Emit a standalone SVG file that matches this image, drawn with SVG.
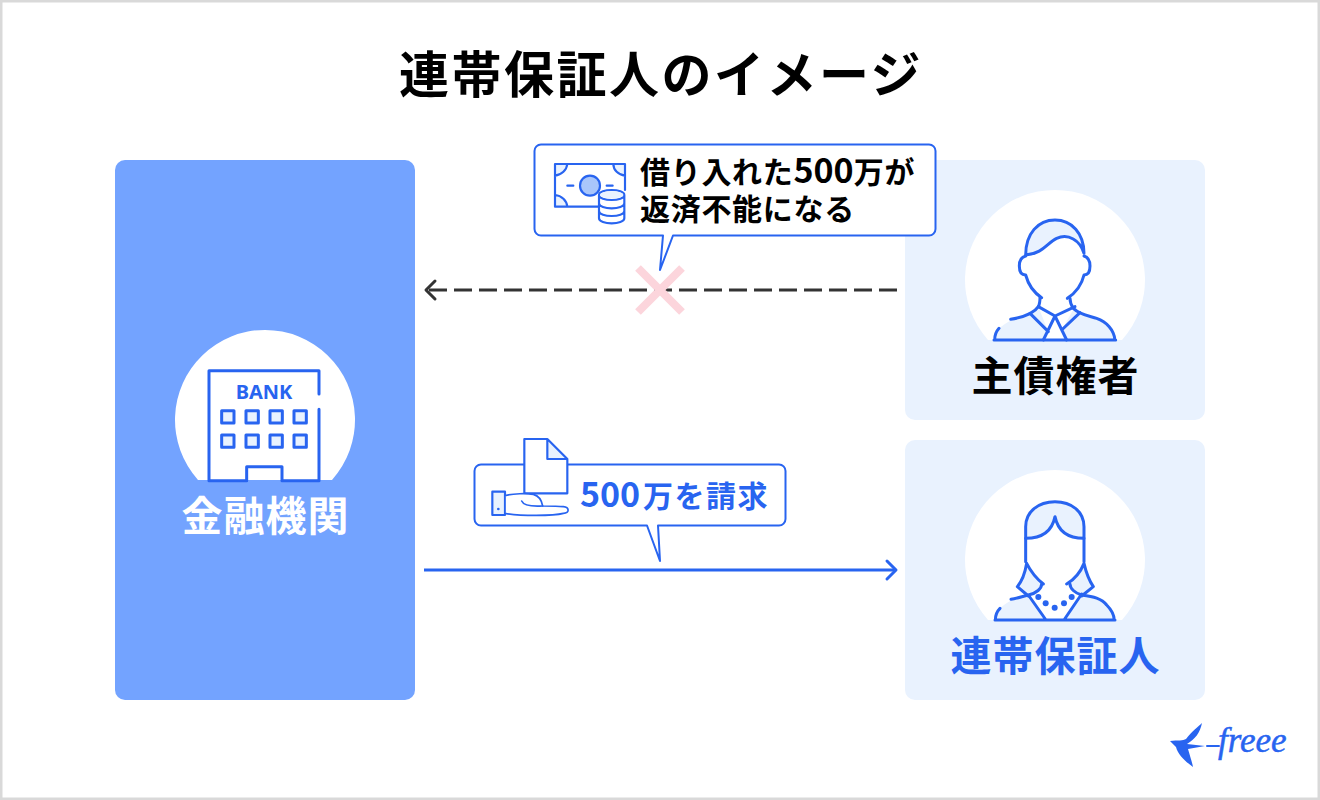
<svg xmlns="http://www.w3.org/2000/svg" width="1320" height="800" viewBox="0 0 1320 800">
<style>
.t{font-family:"Noto Sans CJK JP","Noto Sans",sans-serif;font-weight:700}
.big{font-size:41px;letter-spacing:1px;text-anchor:middle}
.call{font-size:30px;letter-spacing:.7px}
.num{font-size:34px;letter-spacing:0}
.ln{fill:none;stroke:#2864f0;stroke-linecap:round;stroke-linejoin:round}
.z{stroke-width:9}
.lf{fill:#e9f2fe}
.wf{fill:#fff}
.mid{fill:#a9c6fb}
.box{fill:#fff;stroke:#2864f0;stroke-width:2;stroke-linejoin:round}
</style>
<defs>
<marker id="ab" markerUnits="userSpaceOnUse" markerWidth="24" markerHeight="24" refX="20" refY="12" orient="auto"><path d="M11 3L20 12L11 21" fill="none" stroke="#2864f0" stroke-width="3" stroke-linecap="round" stroke-linejoin="round"/></marker>
<marker id="ak" markerUnits="userSpaceOnUse" markerWidth="24" markerHeight="24" refX="20" refY="12" orient="auto"><path d="M11 3L20 12L11 21" fill="none" stroke="#333" stroke-width="3" stroke-linecap="round" stroke-linejoin="round"/></marker>
</defs>
<rect width="1320" height="800" fill="#fff"/>
<rect x="1" y="1" width="1318" height="798" fill="none" stroke="#d9d9d9" stroke-width="3"/>
<text class="t" x="661" y="93" font-size="50" letter-spacing="2.500" text-anchor="middle">連帯保証人のイメージ</text>

<g id="bank">
<rect x="115" y="160" width="300" height="540" rx="10" fill="#73a3ff"/>
<path d="M198 480A90 90 0 1 1 332 480Z" fill="#fff"/>
<g transform="translate(170 325) scale(.33333)">
<path class="ln z" d="M447 207V137H117V467H230V425H336V467H447V253"/>
<g class="ln lf z"><rect x="155" y="257" width="37" height="37"/><rect x="228" y="257" width="37" height="37"/><rect x="300" y="257" width="37" height="37"/><rect x="372" y="257" width="37" height="37"/><rect x="155" y="330" width="37" height="37"/><rect x="228" y="330" width="37" height="37"/><rect x="300" y="330" width="37" height="37"/><rect x="372" y="330" width="37" height="37"/></g>
</g>
<text x="264" y="399" font-family="Noto Sans,sans-serif" font-weight="700" font-size="20" text-anchor="middle" fill="#2864f0">BANK</text>
<text class="t big" x="265.500" y="531" fill="#fff">金融機関</text>
</g>

<g id="debtor">
<rect x="905" y="160" width="300" height="260" rx="10" fill="#e9f2fe"/>
<path d="M988 340A90 90 0 1 1 1122 340Z" fill="#fff"/>
<g transform="translate(960 190) scale(.33333)">
<path class="lf" d="M104 450C104 410 150 388 210 370L235 350L285 378L345 350L365 372C400 380 462 400 465 450Z"/>
<path class="wf" d="M235 350L285 378L345 350L305 420L320 450H250L265 425Z"/>
<path class="ln lf z" d="M197 195C197 130 235 90 285 90C335 90 372 130 372 190C360 150 325 130 290 145C260 160 250 190 197 195Z"/>
<path class="ln z" d="M197 198C180 202 178 215 178 228C178 245 185 255 197 255C205 285 225 310 245 323M372 198C385 202 390 215 390 228C390 245 385 255 372 255C365 285 345 310 322 325"/>
<path class="ln z" d="M240 322C240 335 238 345 235 350C225 365 200 380 152 388M330 325C330 335 335 348 340 355C360 375 390 378 410 385C440 395 462 420 465 450M117 415C108 425 104 438 104 450M102 450H467"/>
<path class="ln z" d="M235 350L285 378L345 350M210 370L265 425M360 368L305 420M285 378L250 450M285 378L320 450"/>
</g>
<text class="t big" x="1055.500" y="391">主債権者</text>
</g>

<g id="guarantor">
<rect x="905" y="440" width="300" height="260" rx="10" fill="#e9f2fe"/>
<path d="M988 620A90 90 0 1 1 1122 620Z" fill="#fff"/>
<g transform="translate(960 470) scale(.33333)">
<path class="lf" d="M106 450C106 410 150 388 205 375L258 450ZM365 375C420 385 462 410 463 450H312Z"/>
<path class="ln lf z" d="M197 205V170C197 125 235 95 285 95C335 95 372 125 372 170V205C330 205 295 190 285 140C275 190 240 205 197 205Z"/>
<path class="lf" d="M200 280C215 310 235 330 248 342C245 355 230 370 205 378L172 350C185 335 195 310 200 280ZM372 280C358 310 340 330 322 342C330 355 345 370 365 378L400 350C390 335 380 310 372 280Z"/>
<path class="ln z" d="M197 205V275M372 205V275M200 280C215 310 235 330 250 342M372 280C360 310 340 330 320 342M200 280C195 310 185 335 172 350L205 378M372 280C380 315 390 335 400 350L365 378"/>
<path class="ln z" d="M205 375L258 450M365 372L312 450M245 342C245 355 230 370 205 375C185 380 170 385 153 388M330 342C330 355 345 370 365 375C400 380 425 385 440 405C455 420 462 435 463 450M120 415C110 425 106 438 106 450M105 450H465"/>
<g fill="#2864f0"><circle cx="235" cy="381" r="9"/><circle cx="257" cy="400" r="9"/><circle cx="284" cy="413" r="9"/><circle cx="312" cy="400" r="9"/><circle cx="335" cy="381" r="9"/></g>
</g>
<text class="t big" x="1055.500" y="671" fill="#2864f0">連帯保証人</text>
</g>

<g id="connectors">
<path d="M897 290H426" fill="none" stroke="#333" stroke-width="3" stroke-dasharray="18 7" marker-end="url(#ak)"/>
<path d="M424 570H896" fill="none" stroke="#2864f0" stroke-width="3" marker-end="url(#ab)"/>
</g>

<g id="cross" stroke="#fcd5dc" stroke-width="8" fill="none"><path d="M638 268L682 312M682 268L638 312"/></g>

<g id="callout-default">
<path class="box" d="M541 144.500H929A6.500 6.500 0 0 1 935.500 151V229A6.500 6.500 0 0 1 929 235.500H673L660 270L663 235.500H541A6.500 6.500 0 0 1 534.500 229V151A6.500 6.500 0 0 1 541 144.500Z"/>
<g transform="translate(530 140) scale(.33333)">
<path class="lf" d="M75 72H112C110 90 95 105 75 107ZM285 72V107C265 105 250 90 250 72ZM75 200V165C95 167 110 182 112 200Z"/>
<path class="ln" stroke-width="6.500" stroke-linecap="butt" d="M205 200H75V72H285V150M75 107C95 105 110 90 112 72M250 72C250 90 265 105 285 107M75 165C95 167 110 182 112 200M112 137H130M230 137H248"/>
<circle class="ln mid" cx="180" cy="137" r="30" stroke-width="6.500"/>
<path class="ln wf" stroke-width="6.500" d="M207 165V235C207 255 283 255 283 235V165C283 145 207 145 207 165C207 185 283 185 283 165M207 190C207 210 283 210 283 190M207 213C207 233 283 233 283 213"/>
<path class="lf" d="M210 165C210 150 280 150 280 165C280 178 210 178 210 165Z"/>
</g>
<text class="t call" x="640" y="183">借り入れた<tspan class="num">500</tspan>万が</text>
<text class="t call" x="640" y="220">返済不能になる</text>
</g>

<g id="callout-claim">
<path class="box" d="M481 464.500H779A6.500 6.500 0 0 1 785.500 471V519A6.500 6.500 0 0 1 779 525.500H658L660 561L647 525.500H481A6.500 6.500 0 0 1 474.500 519V471A6.500 6.500 0 0 1 481 464.500Z"/>
<g transform="translate(470 430) scale(.33333)">
<path class="wf" d="M163 190V27H232L292 87V190Z"/>
<path class="lf" d="M232 27L292 87H232Z"/>
<path class="ln" stroke-width="6.500" d="M163 190V27H232L292 87V190H163M232 27V87H292"/>
<rect class="ln lf" x="67" y="185" width="38" height="70" stroke-width="6.500"/>
<circle cx="85" cy="237" r="4" fill="#2864f0"/>
<path class="ln wf" stroke-width="5" d="M105 197C130 190 170 190 190 193C205 197 215 210 218 228C250 228 265 228 280 230C298 232 300 248 280 250C250 258 150 258 105 250Z"/>
<path class="ln" stroke-width="5" d="M155 213C160 225 185 230 218 228"/>
</g>
<text class="t call" x="580" y="507" fill="#2864f0" style="letter-spacing:1.500px"><tspan class="num" x="580">500</tspan><tspan x="643">万を請求</tspan></text>
</g>

<g id="logo">
<path fill="#2864f0" d="M1170 741C1178 740 1183 741 1186 739C1192 731 1198 727 1202 723C1200 733 1195 739 1187 744L1205 746L1188 749C1190 756 1192 762 1193 767C1186 762 1178 755 1176 747Z"/>
<path d="M1207 746H1219" stroke="#2864f0" stroke-width="2" stroke-linecap="round"/>
<text x="1218" y="752" font-family="Liberation Serif,serif" font-style="italic" font-size="35" fill="#2864f0" stroke="#2864f0" stroke-width=".5">freee</text>
</g>
</svg>
